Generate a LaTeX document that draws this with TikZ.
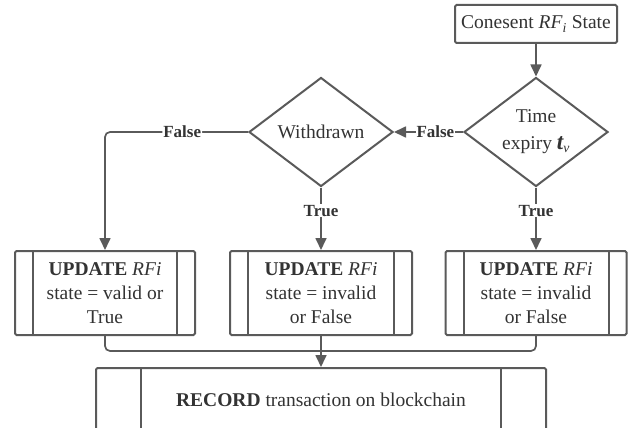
\documentclass[tikz,border=0pt]{standalone}
\usepackage{fontspec}
\setmainfont{Liberation Serif}
\usetikzlibrary{shapes.geometric, positioning, arrows.meta, calc}
\definecolor{linegray}{HTML}{5A5A5A}
\definecolor{textgray}{HTML}{333333}

\begin{document}
\begin{tikzpicture}[
      x=1pt, y=-1pt,
      font=\fontsize{19.5}{24}\selectfont,
      text=textgray,
      box/.style={
        draw=linegray,
        line width=2pt,
        rounded corners=1.5pt,
        align=center,
        inner sep=0pt,
      },
      decision/.style={
        diamond,
        draw=linegray,
        line width=2pt,
        aspect=1.32,
        inner sep=0pt,
        minimum width=144pt,
        minimum height=109pt,
        align=center,
      },
      process/.style={
        box,
        minimum height=84pt,
        path picture={
          \draw[linegray, line width=2pt] ([xshift=#1]path picture bounding box.north west) -- ([xshift=#1]path picture bounding box.south west);
          \draw[linegray, line width=2pt] ([xshift=-#1]path picture bounding box.north east) -- ([xshift=-#1]path picture bounding box.south east);
        },
      },
      flow/.style={draw=linegray, line width=1.7pt, -{Triangle[length=12pt,width=11pt]}},
      tag/.style={font=\fontsize{17}{20}\selectfont\bfseries, fill=white, inner sep=1pt},
      ]
      \path[use as bounding box, fill=white] (0,0) rectangle (635,428);
      \node[box, minimum width=162pt, minimum height=38pt] (consent) at (536,24) {Conesent \textit{RF}\textsubscript{\textit{i}} State};
      \node[decision] (expiry) at (536,132) {Time\\[3pt]expiry {\fontsize{23}{24}\selectfont\bfseries\itshape t}\textsubscript{\itshape v}};
      \node[decision] (withdrawn) at (321,132) {Withdrawn};
      \node[process=18pt, minimum width=180pt] (validupd) at (105,293) {\textbf{UPDATE} \textit{RFi}\\state = valid or\\True};
      \node[process=18pt, minimum width=182pt] (invalidupd) at (321,293) {\textbf{UPDATE} \textit{RFi}\\state = invalid\\or False};
      \node[process=18pt, minimum width=181pt] (expiredupd) at (536,293) {\textbf{UPDATE} \textit{RFi}\\state = invalid\\or False};
      \node[process=45pt, minimum width=450pt, minimum height=64pt] (record) at (321,400) {\textbf{RECORD} transaction on blockchain};
      \coordinate (merge) at (321,351);
      \draw[flow] (consent) -- (expiry);
      \draw[flow] (expiry) -- node[tag, pos=0.4] {False} (withdrawn);
      \draw[flow, rounded corners=5pt] (withdrawn) -| node[tag, pos=0.23] {False} (validupd);
      \draw[flow] (withdrawn) -- node[tag, pos=0.37] {True} (invalidupd);
      \draw[flow] (expiry) -- node[tag, pos=0.37] {True} (expiredupd);
      \draw[linegray, line width=1.7pt, rounded corners=5pt] (validupd) |- (merge) -| (expiredupd);
      \draw[flow] (invalidupd) -- (record);
    \end{tikzpicture}
\end{document}
